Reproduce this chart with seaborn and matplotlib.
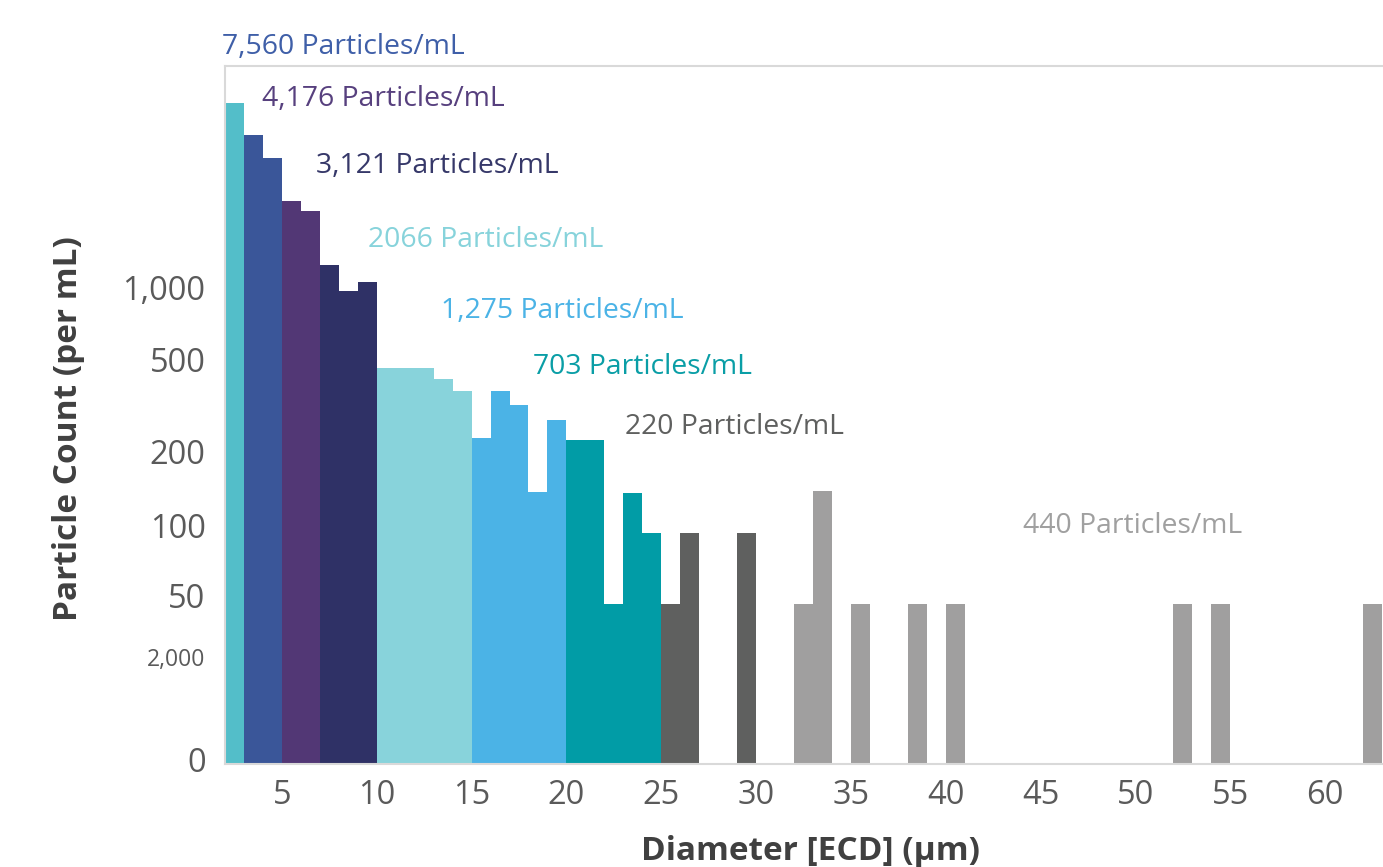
import numpy as np
import pandas as pd
import matplotlib
matplotlib.use("Agg")
import matplotlib.pyplot as plt
import seaborn as sns

# ---- data ----
bin_start = [2, 3, 4, 5, 6, 7, 8, 9, 10, 11, 12, 13, 14, 15, 16, 17, 18, 19,
             20, 21, 22, 23, 24, 25, 26, 29, 32, 33, 35, 38, 40, 52, 54, 62]
counts = [5960, 4365, 3508, 2296, 2085, 1247, 971, 1057, 459, 459, 459, 412, 368,
          233, 368, 320, 139, 279, 229, 229, 47, 137, 93, 47, 93, 93,
          47, 140, 47, 47, 47, 47, 47, 47]
size_classes = ["2-3", "3-5", "5-7", "7-10", "10-15", "15-20", "20-25", "25-30", "30+"]
class_edges = [2, 3, 5, 7, 10, 15, 20, 25, 30, 1000]
class_colors = ["#53bec9", "#3a5699", "#523775", "#2f3166", "#88d3db",
                "#4bb3e6", "#019ca6", "#5f605f", "#a09f9f"]
totals = ["7,560 Particles/mL", "4,176 Particles/mL", "3,121 Particles/mL",
          "2066 Particles/mL", "1,275 Particles/mL", "703 Particles/mL",
          "220 Particles/mL", "440 Particles/mL"]
total_colors = ["#3f5fa8", "#57407e", "#363869", "#87d3db", "#4bb3e6",
                "#0a9ea6", "#5f605f", "#a0a0a0"]
y_tick_values = [10.4, 28, 51, 100, 204, 500, 1000]
y_tick_labels = ["0", "2,000", "50", "100", "200", "500", "1,000"]
x_tick_values = [5, 10, 15, 20, 25, 30, 35, 40, 45, 50, 55, 60]

def size_class(d):
    for i in range(len(size_classes)):
        if class_edges[i] <= d < class_edges[i + 1]:
            return size_classes[i]

df = pd.DataFrame({
    "diameter": [b + 0.5 for b in bin_start],
    "count": counts,
    "size_class": [size_class(b) for b in bin_start],
})

sns.set_theme(style="white")
plt.rcParams["font.family"] = ["Open Sans", "DejaVu Sans"]

fig = plt.figure(figsize=(13.83, 8.67), dpi=100)
ax = fig.add_axes([225 / 1383, (867 - 764) / 867, 1158 / 1383, 698 / 867])

sns.histplot(data=df, x="diameter", weights="count", hue="size_class",
             hue_order=size_classes, palette=class_colors,
             binwidth=1, binrange=(2, 63), multiple="layer", alpha=1,
             element="bars", linewidth=0,
             legend=False, ax=ax)

ax.set_yscale("log")
ax.set_xlim(2, 63.05)
ax.set_ylim(10, 8500)

ax.set_yticks(y_tick_values)
ax.set_yticklabels(y_tick_labels)
ax.yaxis.set_minor_locator(matplotlib.ticker.NullLocator())
ax.set_xticks(x_tick_values)
ax.set_xticklabels([str(v) for v in x_tick_values])
ax.tick_params(axis="both", length=0, labelsize=23.5, labelcolor="#5a5a5a")
ax.tick_params(axis="y", pad=14)
ax.tick_params(axis="x", pad=11)
for lbl in ax.get_yticklabels():
    if lbl.get_text() == "2,000":
        lbl.set_fontsize(16.5)

for side in ["left", "top", "bottom"]:
    ax.spines[side].set_visible(True)
    ax.spines[side].set_color("#d9d9d9")
    ax.spines[side].set_linewidth(1.5)
ax.spines["right"].set_visible(False)

ax.set_xlabel("Diameter [ECD] (µm)", fontsize=24, fontweight="bold", color="#404040")
ax.set_ylabel("Particle Count (per mL)", fontsize=24, fontweight="bold", color="#404040")
ax.xaxis.set_label_coords(0.506, -0.102)
ax.yaxis.set_label_coords(-0.121, 0.481)

text_pos = [(-0.003, 1.027), (0.032, 0.953), (0.0786, 0.857), (0.1235, 0.751),
            (0.1865, 0.649), (0.266, 0.569), (0.3454, 0.483), (0.689, 0.341)]
for (tx, ty), label, col in zip(text_pos, totals, total_colors):
    ax.text(tx, ty, label, transform=ax.transAxes, ha="left", va="center",
            fontsize=20.4, color=col)

fig.savefig("out.png", dpi=100)
